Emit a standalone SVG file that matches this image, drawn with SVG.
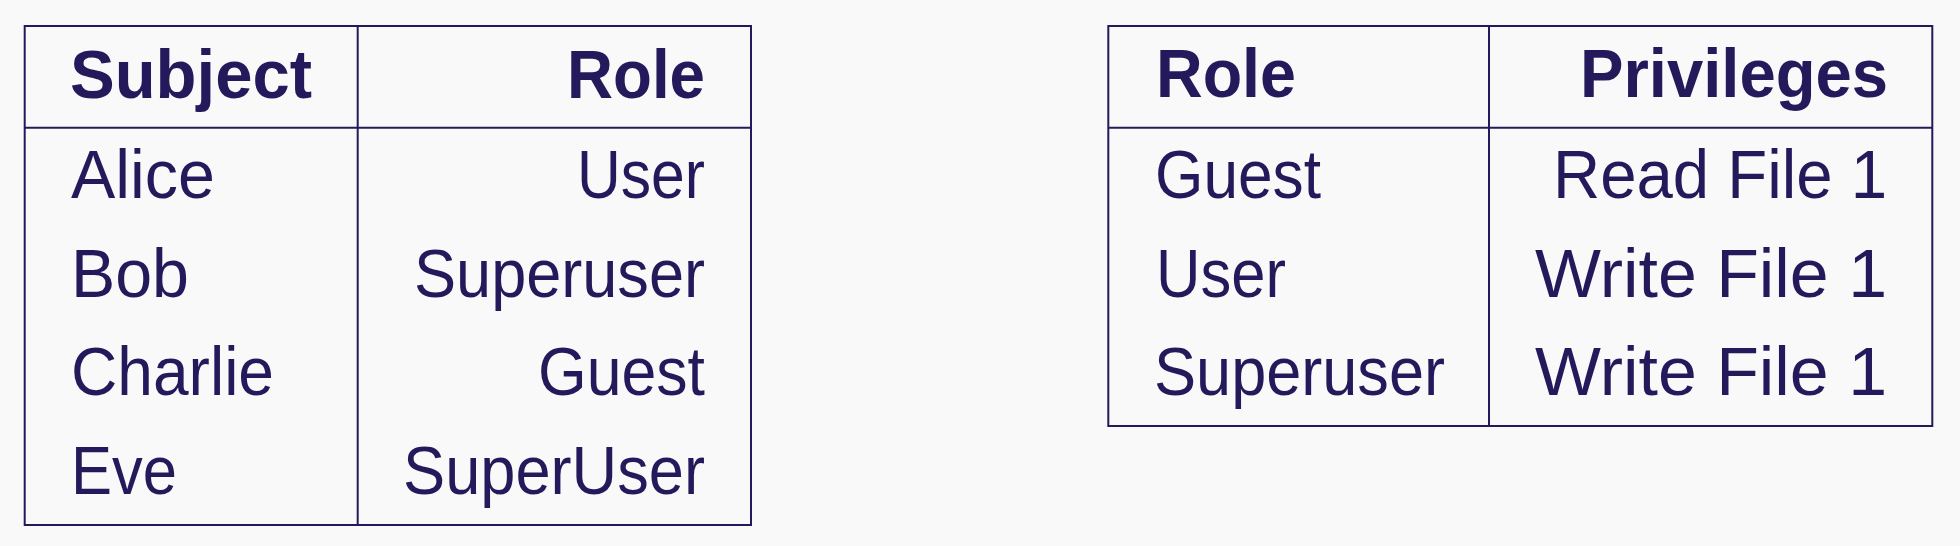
<svg xmlns="http://www.w3.org/2000/svg" width="1960" height="546" viewBox="0 0 1960 546">
<style>
.bg{fill:#f9f9f9}
.frame{fill:none;stroke:#241a5b;stroke-width:2}
.rule{stroke:#241a5b;stroke-width:2}
text{font-family:"Liberation Sans",Arial,sans-serif;font-size:68px;fill:#241a5b}
.h{font-weight:bold}
.r{text-anchor:end}
</style>
<rect class="bg" x="0" y="0" width="1960" height="546"/>
<g id="subject-role-table">
<rect class="frame" x="24.7" y="26" width="726.3" height="499"/>
<line class="rule" x1="24.7" y1="127.7" x2="751" y2="127.7"/>
<line class="rule" x1="357.7" y1="26" x2="357.7" y2="525"/>
<text class="h" x="70" y="97.5" textLength="242" lengthAdjust="spacingAndGlyphs">Subject</text>
<text class="h r" x="705" y="97.5" textLength="138" lengthAdjust="spacingAndGlyphs">Role</text>
<text x="71" y="198.3" textLength="144" lengthAdjust="spacingAndGlyphs">Alice</text>
<text x="71" y="296.8" textLength="118" lengthAdjust="spacingAndGlyphs">Bob</text>
<text x="71" y="395.3" textLength="203" lengthAdjust="spacingAndGlyphs">Charlie</text>
<text x="71" y="493.8" textLength="106" lengthAdjust="spacingAndGlyphs">Eve</text>
<text class="r" x="705" y="198.3" textLength="128" lengthAdjust="spacingAndGlyphs">User</text>
<text class="r" x="705" y="296.8" textLength="291" lengthAdjust="spacingAndGlyphs">Superuser</text>
<text class="r" x="705" y="395.3" textLength="167" lengthAdjust="spacingAndGlyphs">Guest</text>
<text class="r" x="705" y="493.8" textLength="302" lengthAdjust="spacingAndGlyphs">SuperUser</text>
</g>
<g id="role-privileges-table">
<rect class="frame" x="1108.3" y="26" width="824" height="400"/>
<line class="rule" x1="1108.3" y1="127.7" x2="1932.3" y2="127.7"/>
<line class="rule" x1="1489" y1="26" x2="1489" y2="426"/>
<text class="h" x="1156" y="97" textLength="140" lengthAdjust="spacingAndGlyphs">Role</text>
<text class="h r" x="1888" y="97" textLength="308" lengthAdjust="spacingAndGlyphs">Privileges</text>
<text x="1155" y="198.3" textLength="166" lengthAdjust="spacingAndGlyphs">Guest</text>
<text x="1156" y="296.8" textLength="130" lengthAdjust="spacingAndGlyphs">User</text>
<text x="1154" y="395.3" textLength="291" lengthAdjust="spacingAndGlyphs">Superuser</text>
<text class="r" x="1887" y="198.3" textLength="334" lengthAdjust="spacingAndGlyphs">Read File 1</text>
<text class="r" x="1887" y="296.8" textLength="352" lengthAdjust="spacingAndGlyphs">Write File 1</text>
<text class="r" x="1887" y="395.3" textLength="352" lengthAdjust="spacingAndGlyphs">Write File 1</text>
</g>
<g id="connectors"/>
</svg>
